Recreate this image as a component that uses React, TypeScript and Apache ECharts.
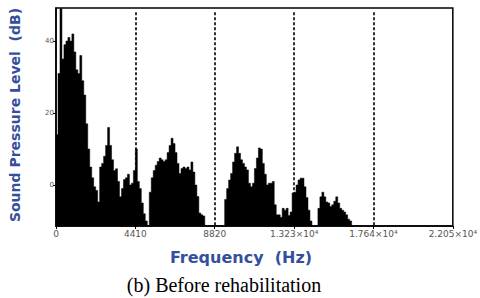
import React, { useEffect, useRef } from "react";
import * as echarts from "echarts";

// Spectrum bins (Hz) and levels (dB)
const binWidthHz = 110.25;
const spectrumDb = [
  14, 31, 49, 35, 39, 40, 41, 40, 42, 37,
  32, 31, 36, 29, 25, 17, 10, 5, 2, -0.5,
  -1.5, -4.7, 5, 6, 8, 11, 16, 11, 7, 4,
  4.5, 1, -3.3, -1, 1.5, 2, 3, 0, 0.5, 4,
  10, 1, -1, -5, -8, -10, -11.4, -2, 2, 4,
  5.5, 6.5, 7.5, 7, 6.5, 7, 9, 11, 13, 11.5,
  9, 6, 3.2, 4.6, 5, 4.6, 5, 4.2, 6.4, 3.6,
  0, -3.2, -7.8, -8.3, -8.6, -11.4, -11.4, -11.4, -11.4, -11.4,
  -11.4, -11.4, -11.4, -11.4, -11.4, -4, -1, 1.4, 3.2, 6.4,
  8.8, 10.6, 8.8, 7, 6, 5, 4.2, 0.5, -0.5, 0.5,
  4.6, 7.5, 10.3, 10, 6, 3, 0, 0.5, 0.5, 1,
  -5.5, -8.3, -8.3, -9, -6.5, -7, -6.5, -8.5, -7.5, -2.2,
  -2, 0, 1.4, 1.9, 1.9, -0.5, -3.5, -7, -10, -11.4,
  -11.4, -11.4, -6.5, -3.3, -2, -3.3, -4.7, -5, -6, -5.5,
  -4.5, -3.3, -5, -6.5, -7, -7.5, -8.3, -9.5, -10, -11.4,
];

const xMin = 0;
const xMax = 22050;
const xInterval = 4410;
const xTickLabels = ["0", "4410", "8820", "1.323\u00d710\u2074", "1.764\u00d710\u2074", "2.205\u00d710\u2074"];
const yMin = -11.4;
const yMax = 49.2;
const yTickValues = [0, 20, 40];
const markerFreqs = [4410, 8820, 13230, 17640];
const markerTopDb = 48;

const yTitle = "Sound Pressure Level  (dB)";
const xTitle = "Frequency  (Hz)";
const caption = "(b) Before rehabilitation";

export default function App() {
  const ref = useRef<HTMLDivElement>(null);
  useEffect(() => {
    if (!ref.current) return;
    const chart = echarts.init(ref.current, null, { renderer: "svg" });
    const data: [number, number][] = spectrumDb.map((v, i) => [i * binWidthHz, v]);
    data.push([spectrumDb.length * binWidthHz, yMin]);
    const titleColor = "#34509c";
    chart.setOption({
      animation: false,
      backgroundColor: "#fff",
      grid: {
        left: 56,
        right: 25,
        top: 8,
        bottom: 72,
        show: true,
        borderColor: "#000",
        borderWidth: 1.5,
        backgroundColor: "transparent",
      },
      xAxis: {
        type: "value",
        min: xMin,
        max: xMax,
        interval: xInterval,
        axisLine: { show: true, onZero: false, lineStyle: { color: "#000", width: 1.5 } },
        axisTick: { show: true, length: 3, lineStyle: { color: "#000", width: 1 } },
        splitLine: { show: false },
        axisLabel: {
          margin: 3,
          fontSize: 9,
          color: "#555",
          fontFamily: "DejaVu Sans",
          formatter: (v: number) => xTickLabels[Math.round(v / xInterval)] ?? "",
        },
      },
      yAxis: {
        type: "value",
        min: yMin,
        max: yMax,
        axisLine: { show: true, onZero: false, lineStyle: { color: "#000", width: 1.5 } },
        axisTick: { show: true, length: 3, customValues: yTickValues, lineStyle: { color: "#000" } },
        splitLine: { show: false },
        axisLabel: {
          margin: 2,
          fontSize: 7,
          color: "#555",
          fontFamily: "DejaVu Sans",
          customValues: yTickValues,
        },
      },
      series: [
        {
          type: "line",
          step: "end",
          data,
          symbol: "none",
          lineStyle: { color: "#000", width: 0.5 },
          areaStyle: { color: "#000", opacity: 1, origin: "start" },
          clip: true,
          silent: true,
          markLine: {
            silent: true,
            symbol: ["none", "none"],
            label: { show: false },
            lineStyle: { color: "#000", width: 1.6, type: [3, 2] },
            data: markerFreqs.map((f) => [
              { coord: [f, markerTopDb] },
              { coord: [f, yMin] },
            ]),
          },
        },
      ],
      graphic: [
        {
          type: "text",
          x: 15,
          y: 115,
          rotation: Math.PI / 2,
          style: {
            text: yTitle,
            fill: titleColor,
            font: "bold 14px 'DejaVu Sans'",
            align: "center",
            verticalAlign: "middle",
          },
        },
        {
          type: "text",
          x: 241,
          y: 257,
          style: {
            text: xTitle,
            fill: titleColor,
            font: "bold 16px 'DejaVu Sans'",
            align: "center",
            verticalAlign: "middle",
          },
        },
        {
          type: "text",
          x: 224,
          y: 285,
          style: {
            text: caption,
            fill: "#000",
            font: "20px 'Liberation Serif'",
            align: "center",
            verticalAlign: "middle",
          },
        },
      ],
    });
    return () => chart.dispose();
  }, []);
  return (
    <div
      ref={ref}
      style={{ position: "fixed", left: 0, top: 0, width: 480, height: 298, background: "#fff" }}
    />
  );
}
